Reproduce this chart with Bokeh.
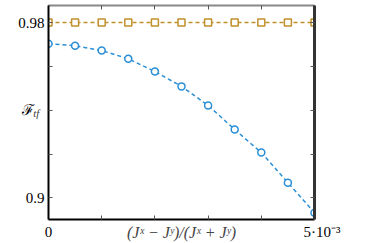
from bokeh.plotting import figure
from bokeh.models import LinearAxis, Range1d, FixedTicker
from bokeh.embed import file_html
from bokeh.resources import INLINE

# data
ratio = [0.0, 0.5e-3, 1.0e-3, 1.5e-3, 2.0e-3, 2.5e-3, 3.0e-3, 3.5e-3, 4.0e-3, 4.5e-3, 5.0e-3]
fid_squares = [0.9802, 0.9802, 0.9802, 0.9802, 0.9802, 0.9802, 0.9802, 0.9802, 0.9802, 0.9802, 0.9802]
fid_circles = [0.9705, 0.9696, 0.9674, 0.9636, 0.9578, 0.9510, 0.9423, 0.9313, 0.9207, 0.9069, 0.8932]
x_ticks = [0.0, 1e-3, 2e-3, 3e-3, 4e-3, 5e-3]
y_ticks = [0.90, 0.92, 0.94, 0.96, 0.98]
x_tick_labels = {0.0: "0", 5e-3: "\u2002\u20025·10⁻³"}
y_tick_labels = {0.90: "0.9", 0.94: "ℱ\u2002\u2009", 0.98: "0.98"}
x_title = "(Jˣ − Jʸ)/(Jˣ + Jʸ)"
y_title_sub = "tf"

BLUE = "#2b8fd6"
ORANGE = "#c0902c"
SERIF = "Liberation Serif"

p = figure(width=349, height=243, output_backend="svg", toolbar_location=None,
           x_range=Range1d(0, 5e-3), y_range=Range1d(0.8901, 0.9880),
           min_border_left=48, min_border_right=35, min_border_top=5, min_border_bottom=24)
p.grid.visible = False
p.outline_line_color = None
p.background_fill_color = "white"

def style_axis(ax, labels, line_color, line_width):
    ax.major_label_overrides = {k: v for k, v in labels.items()}
    ax.major_tick_in = 4
    ax.major_tick_out = 0
    ax.minor_tick_in = 0
    ax.minor_tick_out = 0
    ax.major_tick_line_color = "#555555"
    ax.axis_line_color = line_color
    ax.axis_line_width = line_width
    ax.major_label_text_font = SERIF
    ax.major_label_text_font_size = "15px"
    ax.major_label_text_color = "black"

p.xaxis.ticker = FixedTicker(ticks=x_ticks, minor_ticks=[])
p.yaxis.ticker = FixedTicker(ticks=y_ticks, minor_ticks=[])
style_axis(p.xaxis[0], {t: x_tick_labels.get(t, "") for t in x_ticks}, "black", 2)
style_axis(p.yaxis[0], {t: y_tick_labels.get(t, "") for t in y_ticks}, "black", 2)
p.xaxis.major_label_standoff = 4
p.yaxis.major_label_standoff = 4
p.xaxis.axis_label = x_title
p.xaxis.axis_label_text_font = SERIF
p.xaxis.axis_label_text_font_style = "italic"
p.xaxis.axis_label_text_font_size = "16px"
p.xaxis.axis_label_standoff = -19

p.yaxis.axis_label = y_title_sub
p.yaxis.axis_label_orientation = "horizontal"
p.yaxis.axis_label_text_font = SERIF
p.yaxis.axis_label_text_font_style = "italic"
p.yaxis.axis_label_text_font_size = "11px"
p.yaxis.axis_label_standoff = -24

top = LinearAxis(ticker=FixedTicker(ticks=x_ticks, minor_ticks=[]))
style_axis(top, {t: "" for t in x_ticks}, "#888888", 2)
top.major_label_text_font_size = "0px"
top.major_label_standoff = 0
p.add_layout(top, "above")

right = LinearAxis(ticker=FixedTicker(ticks=y_ticks, minor_ticks=[]))
style_axis(right, {t: "" for t in y_ticks}, "#333333", 3)
right.major_label_text_font_size = "0px"
right.major_label_standoff = 0
p.add_layout(right, "right")

p.line(ratio, fid_squares, line_color=ORANGE, line_width=1.5, line_dash="4 3")
p.scatter(ratio, fid_squares, marker="square", size=7, fill_color="white",
          line_color=ORANGE, line_width=1.5)
p.line(ratio, fid_circles, line_color=BLUE, line_width=1.5, line_dash="4 3")
p.scatter(ratio, fid_circles, marker="circle", size=7, fill_color="white",
          line_color=BLUE, line_width=1.5)

open("out.html", "w").write(file_html(p, INLINE))
